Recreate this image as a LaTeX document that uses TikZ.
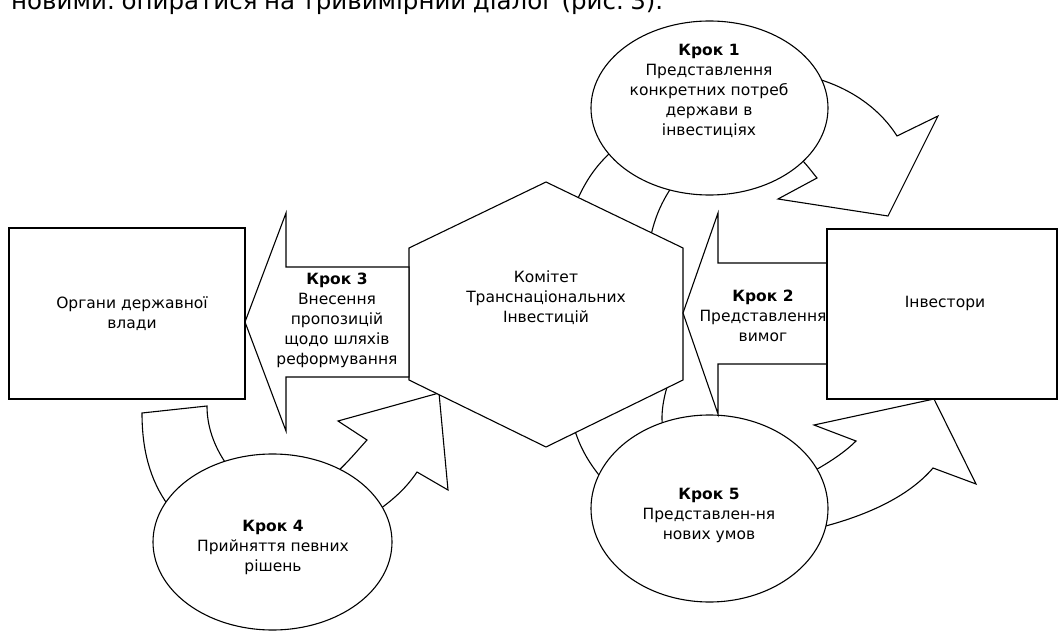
\documentclass[tikz,border=0pt]{standalone}
\usepackage{fontspec}
\setmainfont{DejaVu Sans}
\usetikzlibrary{shapes.geometric}

\tikzset{
  outline/.style={draw=black, line width=1.1pt, fill=white, line join=miter},
  stepoval/.style={outline, ellipse, inner sep=0pt},
  actor/.style={outline, rectangle, inner sep=0pt},
  label text/.style={align=center, inner sep=0pt, font=\fontsize{15.5}{20}\selectfont},
}
\newcommand{\krok}[1]{\textbf{Крок #1}}

\begin{document}
\begin{tikzpicture}[x=1pt, y=-1pt]
\useasboundingbox (0,0) rectangle (1058,631);

% Cropped line of body text above the figure
\begin{scope}
\clip (0,0) rectangle (1058,631);
\node[anchor=base west, inner sep=0pt, font=\fontsize{24.5}{30}\selectfont] (bodyline) at (11,9.5)
  {\hbox to 652pt{новими:\hfill опиратися\hfill на\hfill тривимірний\hfill діалог\hfill (рис.\hfill 3).}};
\end{scope}

% Curved arrow: committee -> step 1 -> investors
\draw[outline] (572,212) .. controls (585,180) and (596,166) .. (612,151)
  -- (818,79) .. controls (855,90) and (882,112) .. (897,136)
  -- (938,116) -- (888,216) -- (778,199) -- (817,178)
  .. controls (812,172) and (808,166) .. (800,158)
  -- (671,188) .. controls (660,205) and (654,220) .. (650,240) -- cycle;

% Curved arrow: step 4 -> committee
\draw[outline] (142,413) -- (207,406) .. controls (207,425) and (213,445) .. (227,465)
  -- (336,473) .. controls (348,462) and (358,450) .. (367,440)
  -- (338,421) -- (439,393) -- (448,490) -- (417,472)
  .. controls (407,487) and (395,498) .. (380,509)
  -- (168,505) .. controls (150,480) and (142,450) .. (142,413) -- cycle;

% Curved arrow: committee -> step 5 -> investors
\draw[outline] (572,420) .. controls (578,445) and (588,462) .. (603,480)
  -- (818,528) .. controls (870,515) and (910,495) .. (933,468)
  -- (976,484) -- (934,399) -- (814,425) -- (856,441)
  .. controls (845,452) and (830,462) .. (812,472)
  -- (664,434) .. controls (660,420) and (662,400) .. (670,378) -- cycle;

% Steps 1, 4 and 5
\node[stepoval, minimum width=237pt, minimum height=174pt] (step1) at (709.5,108) {};
\node[stepoval, minimum width=239pt, minimum height=176pt] (step4) at (272.5,542) {};
\node[stepoval, minimum width=237pt, minimum height=187pt] (step5) at (709.5,508.5) {};

% Committee
\draw[outline] (546,182) -- (683,248) -- (683,380) -- (546,447) -- (409,380) -- (409,248) -- cycle;
\node[label text] (ctti) at (546,298) {Комітет\\Транснаціональних\\Інвестицій};

% Step 3: committee -> government
\draw[outline] (245,322) -- (286,213) -- (286,267) -- (409,267) -- (409,377) -- (286,377) -- (286,431) -- cycle;

% Step 2: investors -> committee
\draw[outline] (683,313) -- (718,213) -- (718,263) -- (828,263) -- (828,364) -- (718,364) -- (718,414) -- cycle;

% Government and investors
\node[actor, minimum width=236pt, minimum height=171pt] (gov) at (127,313.5) {};
\node[label text] (govtext) at (132,314) {Органи державної\\влади};
\node[actor, minimum width=230pt, minimum height=170pt] (invbox) at (942,314) {};
\node[label text] (inv) at (945,303) {Інвестори};

% Step labels
\node[label text] (t1) at (709,91) {\krok{1}\\Представлення\\конкретних потреб\\держави в\\інвестиціях};
\node[label text] (t2) at (763,316) {\krok{2}\\Представлення\\вимог};
\node[label text] (t3) at (337,320) {\krok{3}\\Внесення\\пропозицій\\щодо шляхів\\реформування};
\node[label text] (t4) at (273,547) {\krok{4}\\Прийняття певних\\рішень};
\node[label text] (t5) at (709,515) {\krok{5}\\Представлен-ня\\нових умов};

\end{tikzpicture}
\end{document}
